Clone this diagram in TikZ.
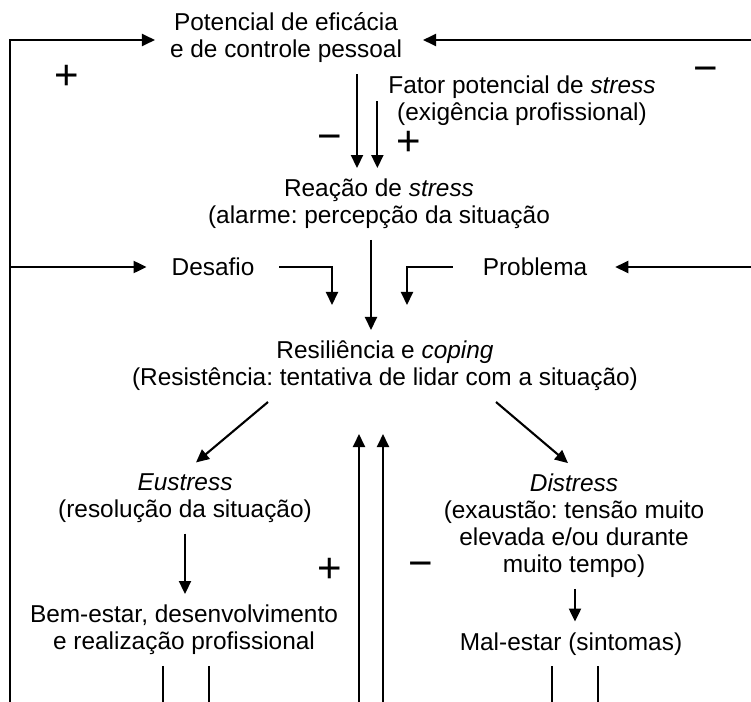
\documentclass[tikz,border=0pt]{standalone}
\usepackage{fontspec}
\setmainfont{Liberation Sans}
\usetikzlibrary{arrows.meta}
\frenchspacing

\begin{document}
\begin{tikzpicture}[x=0.5pt,y=-0.5pt,
  line width=1.05pt,
  arr/.style={-{Triangle[length=6.5pt,width=6pt]}},
  txt/.style={align=center,inner sep=5pt,font=\fontsize{12.2}{13.5}\selectfont},
  sgn/.style={inner sep=0pt,font=\fontsize{21}{21}\selectfont}]

\useasboundingbox (0,0) rectangle (751,702);

% text blocks
\node[txt] (pot) at (286,38) {Potencial de eficácia\\e de controle pessoal};
\node[txt] (fator) at (522,101) {Fator potencial de \textit{stress}\\(exigência profissional)};
\node[txt] (reacao) at (379,204) {Reação de \textit{stress}\\(alarme: percepção da situação};
\node[txt] (desafio) at (213,267) {Desafio};
\node[txt] (problema) at (535,267) {Problema};
\node[txt] (resil) at (385,366) {Resiliência e \textit{coping}\\(Resistência: tentativa de lidar com a situação)};
\node[txt] (eu) at (185,498) {\textit{Eustress}\\(resolução da situação)};
\node[txt] (dis) at (574,526) {\textit{Distress}\\(exaustão: tensão muito\\elevada e/ou durante\\muito tempo)};
\node[txt] (bem) at (184,630) {Bem-estar, desenvolvimento\\e realização profissional};
\node[txt] (mal) at (571,644) {Mal-estar (sintomas)};

% signs
\foreach \x/\y/\s/\n in {67/77/+/pa, 706/75/−/ma, 330/143/−/mb, 409/143/+/pb, 330/570/+/pc, 421/570/−/mc}
  \node[sgn] (\n) at (\x,\y) {\s};

% free ends at the borders
\coordinate (lb) at (10,702);
\coordinate (rb) at (751,702);
\coordinate (ua) at (359,702);
\coordinate (ub) at (383,702);

% outer loops
\draw[arr] (lb) |- ([xshift=-2pt,yshift=-1pt]pot.west);
\draw[arr] (lb |- desafio) -- ([xshift=-7pt]desafio.west);
\draw[arr] ([yshift=-1pt]rb |- pot) -- ([xshift=5pt,yshift=-1pt]pot.east);
\draw[arr] (rb |- problema) -- ([xshift=8.5pt]problema.east);

% down to the reaction
\draw[arr] ([xshift=35.5pt]pot.south) -- ([xshift=35.5pt]pot.south |- reacao.north);
\draw[arr] (fator.west) -- (fator.west |- reacao.north);
\draw[arr] ([xshift=-4pt]reacao.south) -- ([xshift=-4pt]reacao.south |- resil.north);

% challenge and problem
\draw[arr] ([xshift=7pt]desafio.east) -| ([xshift=-26.5pt,yshift=12.5pt]resil.north);
\draw[arr] ([xshift=-9.5pt]problema.west) -| ([xshift=11pt,yshift=12.5pt]resil.north);

% outcomes
\draw[arr] ([xshift=-58.5pt]resil.south) -- ([xshift=5.5pt]eu.north);
\draw[arr] ([xshift=55.5pt]resil.south) -- ([xshift=-3pt]dis.north);
\draw[arr] (eu.south) -- (eu.south |- bem.north);
\draw[arr] ([xshift=0.5pt]dis.south) -- ([xshift=0.5pt]dis.south |- mal.north);

% feedback back up
\foreach \c in {ua,ub}
  \draw[arr] (\c) -- ([yshift=-16pt]\c |- resil.south);
\foreach \s in {-10.5pt,12.5pt}
  \draw ([xshift=\s]bem.south) -- ([xshift=\s]bem.south |- lb);
\foreach \s in {-9.5pt,13.5pt}
  \draw ([xshift=\s]mal.south) -- ([xshift=\s]mal.south |- lb);

\end{tikzpicture}
\end{document}
